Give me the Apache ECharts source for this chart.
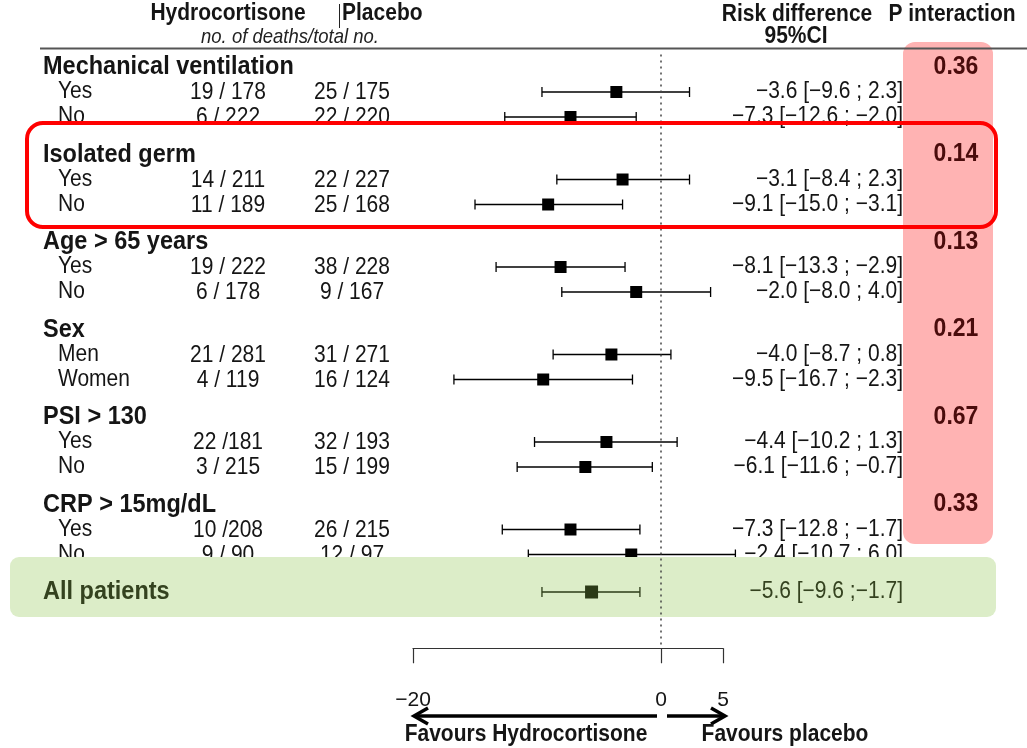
<!DOCTYPE html>
<html><head><meta charset="utf-8">
<script src="https://cdn.jsdelivr.net/npm/echarts@6/dist/echarts.min.js"></script>
<style>html,body{margin:0;padding:0;background:#fff}#c{width:1027px;height:748px}</style>
</head><body><div id="c"></div>
<script>
// ---------- data ----------
const groups = ['Mechanical ventilation', 'Isolated germ', 'Age > 65 years', 'Sex', 'PSI > 130', 'CRP > 15mg/dL'];
const subLabels = [['Yes', 'No'], ['Yes', 'No'], ['Yes', 'No'], ['Men', 'Women'], ['Yes', 'No'], ['Yes', 'No']];
const hydroCounts = [['19 / 178', '6 / 222'], ['14 / 211', '11 / 189'], ['19 / 222', '6 / 178'], ['21 / 281', '4 / 119'], ['22 /181', '3 / 215'], ['10 /208', '9 / 90']];
const placeboCounts = [['25 / 175', '22 / 220'], ['22 / 227', '25 / 168'], ['38 / 228', '9 / 167'], ['31 / 271', '16 / 124'], ['32 / 193', '15 / 199'], ['26 / 215', '12 / 97']];
const estimates = [[-3.6, -7.3], [-3.1, -9.1], [-8.1, -2.0], [-4.0, -9.5], [-4.4, -6.1], [-7.3, -2.4]];
const lowerCI = [[-9.6, -12.6], [-8.4, -15.0], [-13.3, -8.0], [-8.7, -16.7], [-10.2, -11.6], [-12.8, -10.7]];
const upperCI = [[2.3, -2.0], [2.3, -3.1], [-2.9, 4.0], [0.8, -2.3], [1.3, -0.7], [-1.7, 6.0]];
const pInteraction = ['0.36', '0.14', '0.13', '0.21', '0.67', '0.33'];
const totalLabel = 'All patients';
const totalEstimate = -5.6, totalLower = -9.6, totalUpper = -1.7;
const xTicks = [-20, 0, 5];

// ---------- layout helpers ----------
const FONT = '"Liberation Sans", Arial, sans-serif';
const MINUS = '\u2212';
const SY = 1.1; // slight vertical stretch of the reference glyphs
function fmt(v) { return (v < 0 ? MINUS : '') + Math.abs(v).toFixed(1); }

const rows = [];
groups.forEach((g, i) => {
  const base = i * 3.5;
  rows.push({ pos: base, kind: 'header', label: g, p: pInteraction[i] });
  subLabels[i].forEach((s, j) => {
    rows.push({
      pos: base + 1 + j, kind: 'sub', label: s,
      hydro: hydroCounts[i][j], plac: placeboCounts[i][j],
      est: estimates[i][j], lo: lowerCI[i][j], hi: upperCI[i][j]
    });
  });
});
const totalPos = groups.length * 3.5;
const subRows = rows.filter(r => r.kind === 'sub');

function txt(x, y, text, opt) {
  opt = opt || {};
  return {
    type: 'text', x: x, y: y, z2: 10, scaleY: SY,
    style: {
      text: text, fill: opt.fill || '#151515',
      font: (opt.style || 'normal') + ' ' + (opt.weight || 'normal') + ' ' + (opt.size || 21) + 'px ' + FONT,
      align: opt.align || 'left', verticalAlign: 'middle',
      textAlign: opt.align || 'left', textVerticalAlign: 'middle'
    }
  };
}
function gtxt(x, y, text, opt) { return Object.assign(txt(x, y, text, opt), { z: 1 }); }

function ciRender(color, sq) {
  return function (params, api) {
    const y = api.coord([0, api.value(1)])[1];
    const xe = api.coord([api.value(0), 0])[0];
    const xl = api.coord([api.value(2), 0])[0];
    const xh = api.coord([api.value(3), 0])[0];
    const ls = { stroke: color, lineWidth: 1.3 };
    return {
      type: 'group', children: [
        { type: 'line', shape: { x1: xl, y1: y, x2: xh, y2: y }, style: ls },
        { type: 'line', shape: { x1: xl, y1: y - 5, x2: xl, y2: y + 5 }, style: ls },
        { type: 'line', shape: { x1: xh, y1: y - 5, x2: xh, y2: y + 5 }, style: ls },
        { type: 'rect', shape: { x: xe - sq / 2, y: y - sq / 2, width: sq, height: sq }, style: { fill: color } }
      ]
    };
  };
}

const chart = echarts.init(document.getElementById('c'));
chart.setOption({
  animation: false,
  backgroundColor: '#fff',
  grid: { left: 413, right: 304, top: 54.5, bottom: 99.75, containLabel: false },
  xAxis: {
    type: 'value', min: -20, max: 5, interval: 5,
    splitLine: { show: false },
    axisLine: { show: true, onZero: false, lineStyle: { color: '#333', width: 1.2 } },
    axisTick: { show: true, length: 15, inside: false, customValues: xTicks, lineStyle: { color: '#333', width: 1.2 } },
    axisLabel: {
      show: true, margin: 41, customValues: xTicks, color: '#151515', fontSize: 21, fontFamily: FONT,
      formatter: v => xTicks.indexOf(v) >= 0 ? (v < 0 ? MINUS + Math.abs(v) : String(v)) : ''
    }
  },
  yAxis: { type: 'value', min: -0.5, max: 23.25, inverse: true, show: false, splitLine: { show: false } },
  graphic: [
    { type: 'rect', z: 0, shape: { x: 903, y: 42, width: 90, height: 502, r: 12 }, style: { fill: '#ffb3b3' } },
    { type: 'line', z: 1, shape: { x1: 40, y1: 48.5, x2: 1027, y2: 48.5 }, style: { stroke: '#555', lineWidth: 2 } },
    gtxt(228, 14, 'Hydrocortisone', { weight: 'bold', align: 'center' }),
    { type: 'line', z: 1, shape: { x1: 339.5, y1: 4, x2: 339.5, y2: 28 }, style: { stroke: '#222', lineWidth: 1 } },
    gtxt(342, 14, 'Placebo', { weight: 'bold' }),
    gtxt(290, 37, 'no. of deaths/total no.', { style: 'italic', size: 18.5, align: 'center', fill: '#222' }),
    gtxt(797, 15, 'Risk difference', { weight: 'bold', align: 'center' }),
    gtxt(796, 37, '95%CI', { weight: 'bold', align: 'center' }),
    gtxt(952, 15, 'P interaction', { weight: 'bold', align: 'center' }),
    { type: 'rect', z: 5, shape: { x: 10, y: 557, width: 986, height: 60, r: 9 }, style: { fill: '#dcedc8' } },
    { type: 'rect', z: 20, shape: { x: 27, y: 123, width: 969, height: 104, r: 16 }, style: { fill: 'none', stroke: '#ff0000', lineWidth: 4 } },
    // arrows
    { type: 'line', z: 1, shape: { x1: 657, y1: 716, x2: 414, y2: 716 }, style: { stroke: '#000', lineWidth: 3.5 } },
    { type: 'polyline', z: 1, shape: { points: [[428, 708], [414, 716], [428, 724]] }, style: { stroke: '#000', lineWidth: 3.5, fill: 'none' } },
    { type: 'line', z: 1, shape: { x1: 667, y1: 716, x2: 725, y2: 716 }, style: { stroke: '#000', lineWidth: 3.5 } },
    { type: 'polyline', z: 1, shape: { points: [[711, 708], [725, 716], [711, 724]] }, style: { stroke: '#000', lineWidth: 3.5, fill: 'none' } },
    gtxt(526, 735, 'Favours Hydrocortisone', { weight: 'bold', align: 'center' }),
    gtxt(785, 735, 'Favours placebo', { weight: 'bold', align: 'center' })
  ],
  series: [
    {
      type: 'custom', name: 'ci', z: 3, clip: false,
      data: subRows.map(r => [r.est, r.pos, r.lo, r.hi]),
      encode: { x: [0, 2, 3], y: 1 },
      renderItem: ciRender('#000', 12),
      markLine: {
        silent: true, symbol: 'none', label: { show: false },
        lineStyle: { type: [2, 4], color: '#444', width: 1.5 },
        data: [{ xAxis: 0 }]
      }
    },
    {
      type: 'custom', name: 'table', z: 3, clip: false,
      data: rows.map((r, i) => [0, r.pos, i]),
      encode: { x: 0, y: 1 },
      renderItem: function (params, api) {
        const r = rows[api.value(2)];
        const y = api.coord([0, api.value(1)])[1];
        if (r.kind === 'header') {
          return {
            type: 'group', children: [
              txt(43, y, r.label, { weight: 'bold', size: 23.5 }),
              txt(956, y, r.p, { weight: 'bold', size: 23, align: 'center', fill: '#4a0c0c' })
            ]
          };
        }
        return {
          type: 'group', children: [
            txt(58, y, r.label),
            txt(228, y + 1, r.hydro, { align: 'center' }),
            txt(352, y + 1, r.plac, { align: 'center' }),
            txt(903, y, fmt(r.est) + ' [' + fmt(r.lo) + ' ; ' + fmt(r.hi) + ']', { align: 'right' })
          ]
        };
      }
    },
    {
      type: 'custom', name: 'total', z: 10, clip: false,
      data: [[totalEstimate, totalPos, totalLower, totalUpper]],
      encode: { x: [0, 2, 3], y: 1 },
      renderItem: function (params, api) {
        const g = ciRender('#2b3a17', 13)(params, api);
        const y = api.coord([0, api.value(1)])[1];
        g.children.push(txt(43, y, totalLabel, { weight: 'bold', size: 23.5, fill: '#34421f' }));
        g.children.push(txt(903, y, fmt(api.value(0)) + ' [' + fmt(api.value(2)) + ' ;' + fmt(api.value(3)) + ']', { align: 'right', fill: '#34421f' }));
        return g;
      }
    }
  ]
});
</script>
</body></html>
